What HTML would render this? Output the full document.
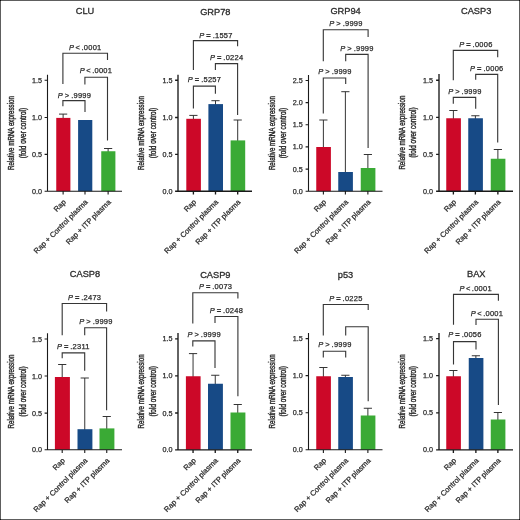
<!DOCTYPE html>
<html><head><meta charset="utf-8"><title>chart</title>
<style>
html,body{margin:0;padding:0;background:#fff;}
body{width:520px;height:520px;overflow:hidden;}
svg{display:block;font-family:"Liberation Sans",sans-serif;will-change:transform;}
text{fill:#2b2b2b;stroke:#2b2b2b;stroke-width:0.25px;}
.pt{letter-spacing:0.25px;word-spacing:-0.6px;}
.lt{word-spacing:-1.1px;}
.yl{stroke-width:0.4px;}
.tt{stroke-width:0.3px;}
</style></head><body>
<svg width="520" height="520" viewBox="0 0 520 520">
<rect x="0" y="0" width="520" height="520" fill="#fff"/>
<rect x="0.5" y="0.5" width="519" height="519" fill="none" stroke="#5e5e5e" stroke-width="1"/>
<path d="M0 0h1v1h-1zM519 0h1v1h-1zM0 519h1v1h-1zM519 519h1v1h-1z" fill="#111"/>
<g>
<text x="85" y="14.4" font-size="9.25" text-anchor="middle" class="tt">CLU</text>
<path d="M63.12 118.9V114.1M59.02 114.1H67.22" stroke="#2a2a2a" stroke-width="0.95" fill="none"/>
<rect x="56.25" y="117.9" width="14.15" height="73.35" fill="#cc0828"/>
<rect x="78.1" y="120" width="14.2" height="71.25" fill="#174a86"/>
<path d="M108.12 152.25V148.5M104.03 148.5H112.22" stroke="#2a2a2a" stroke-width="0.95" fill="none"/>
<rect x="101.25" y="151.25" width="14.15" height="40" fill="#3aaa35"/>
<path d="M47.5 74.75V191.25M47 191.25H122M44.6 80.25H47.5M44.6 117.5H47.5M44.6 154.4H47.5M44.6 191.25H47.5M63.12 191.25V194.45M85 191.25V194.45M108.12 191.25V194.45" stroke="#1a1a1a" stroke-width="1.1" fill="none"/>
<text x="42.1" y="82.75" font-size="7.2" text-anchor="end" fill="#2b2b2b">1.5</text>
<text x="42.1" y="120" font-size="7.2" text-anchor="end" fill="#2b2b2b">1.0</text>
<text x="42.1" y="156.9" font-size="7.2" text-anchor="end" fill="#2b2b2b">0.5</text>
<text x="42.1" y="193.75" font-size="7.2" text-anchor="end" fill="#2b2b2b">0.0</text>
<text transform="translate(66.42 202.55) rotate(-45)" font-size="7.5" text-anchor="end" fill="#2b2b2b">Rap</text>
<text transform="translate(88.3 202.55) rotate(-45)" font-size="7.5" text-anchor="end" fill="#2b2b2b">Rap + Control plasma</text>
<text transform="translate(111.42 202.55) rotate(-45)" font-size="7.5" text-anchor="end" fill="#2b2b2b">Rap + ITP plasma</text>
<text transform="translate(14.2 133) rotate(-90)" font-size="8.2" text-anchor="middle" textLength="74" lengthAdjust="spacingAndGlyphs" class="yl">Relative mRNA expression</text>
<text transform="translate(25.7 133) rotate(-90)" font-size="8.2" text-anchor="middle" textLength="50.4" lengthAdjust="spacingAndGlyphs" class="yl">(fold over control)</text>
<path d="M62.9 83.9V53.2H107.5V60" stroke="#363636" stroke-width="1.12" fill="none"/>
<text x="85.3" y="50" font-size="7.5" text-anchor="middle" class="pt lt"><tspan font-style="italic">P</tspan> &lt; .0001</text>
<path d="M84.9 84.4V77.2H107.5V140.6" stroke="#363636" stroke-width="1.12" fill="none"/>
<text x="96" y="73.35" font-size="7.5" text-anchor="middle" class="pt lt"><tspan font-style="italic">P</tspan> &lt; .0001</text>
<path d="M62.9 106.25V100.6H85V112" stroke="#363636" stroke-width="1.12" fill="none"/>
<text x="74.5" y="97.5" font-size="7.5" text-anchor="middle" class="pt"><tspan font-style="italic">P</tspan> &gt; .9999</text>
</g>
<g>
<text x="215.3" y="14.5" font-size="9.25" text-anchor="middle" class="tt">GRP78</text>
<path d="M193.4 119.8V115.4M189.3 115.4H197.5" stroke="#2a2a2a" stroke-width="0.95" fill="none"/>
<rect x="186.3" y="118.8" width="14.6" height="72.45" fill="#cc0828"/>
<path d="M215.5 105.1V100.7M211.4 100.7H219.6" stroke="#2a2a2a" stroke-width="0.95" fill="none"/>
<rect x="208.4" y="104.1" width="14.6" height="87.15" fill="#174a86"/>
<path d="M237.7 141.4V120M233.6 120H241.8" stroke="#2a2a2a" stroke-width="0.95" fill="none"/>
<rect x="230.6" y="140.4" width="14.6" height="50.85" fill="#3aaa35"/>
<path d="M178 74.7V191.25M177.5 191.25H252M175.1 80.25H178M175.1 117.5H178M175.1 154.4H178M175.1 191.25H178M193.4 191.25V194.45M215.5 191.25V194.45M237.7 191.25V194.45" stroke="#1a1a1a" stroke-width="1.35" fill="none"/>
<text x="172.4" y="82.75" font-size="7.2" text-anchor="end" fill="#2b2b2b">1.5</text>
<text x="172.4" y="120" font-size="7.2" text-anchor="end" fill="#2b2b2b">1.0</text>
<text x="172.4" y="156.9" font-size="7.2" text-anchor="end" fill="#2b2b2b">0.5</text>
<text x="172.4" y="193.75" font-size="7.2" text-anchor="end" fill="#2b2b2b">0.0</text>
<text transform="translate(196.7 202.55) rotate(-45)" font-size="7.5" text-anchor="end" fill="#2b2b2b">Rap</text>
<text transform="translate(218.8 202.55) rotate(-45)" font-size="7.5" text-anchor="end" fill="#2b2b2b">Rap + Control plasma</text>
<text transform="translate(241 202.55) rotate(-45)" font-size="7.5" text-anchor="end" fill="#2b2b2b">Rap + ITP plasma</text>
<text transform="translate(144.45 132.97) rotate(-90)" font-size="8.2" text-anchor="middle" textLength="74" lengthAdjust="spacingAndGlyphs" class="yl">Relative mRNA expression</text>
<text transform="translate(155.95 132.97) rotate(-90)" font-size="8.2" text-anchor="middle" textLength="50.4" lengthAdjust="spacingAndGlyphs" class="yl">(fold over control)</text>
<path d="M193.4 70V40.6H237.6V46.2" stroke="#363636" stroke-width="1.12" fill="none"/>
<text x="216" y="37.6" font-size="7.5" text-anchor="middle" class="pt"><tspan font-style="italic">P</tspan> <tspan font-weight="bold">=</tspan> .1557</text>
<path d="M215.4 70V63.6H237.6V115" stroke="#363636" stroke-width="1.12" fill="none"/>
<text x="226.7" y="59.95" font-size="7.5" text-anchor="middle" class="pt"><tspan font-style="italic">P</tspan> <tspan font-weight="bold">=</tspan> .0224</text>
<path d="M193.4 108.5V86.1H215.4V93.7" stroke="#363636" stroke-width="1.12" fill="none"/>
<text x="204.5" y="82.4" font-size="7.5" text-anchor="middle" class="pt"><tspan font-style="italic">P</tspan> <tspan font-weight="bold">=</tspan> .5257</text>
</g>
<g>
<text x="345.6" y="14.4" font-size="9.25" text-anchor="middle" class="tt">GRP94</text>
<path d="M323.38 148V120M319.27 120H327.48" stroke="#2a2a2a" stroke-width="0.95" fill="none"/>
<rect x="316.25" y="147" width="14.65" height="44.25" fill="#cc0828"/>
<path d="M345.38 173V91.7M341.27 91.7H349.48" stroke="#2a2a2a" stroke-width="0.95" fill="none"/>
<rect x="338.25" y="172" width="14.65" height="19.25" fill="#174a86"/>
<path d="M367.88 169V154.5M363.77 154.5H371.98" stroke="#2a2a2a" stroke-width="0.95" fill="none"/>
<rect x="360.75" y="168" width="14.65" height="23.25" fill="#3aaa35"/>
<path d="M308.5 75V191.25M308 191.25H382.5M305.6 80.5H308.5M305.6 102.6H308.5M305.6 124.8H308.5M305.6 146.9H308.5M305.6 169.1H308.5M305.6 191.25H308.5M323.38 191.25V194.45M345.38 191.25V194.45M367.88 191.25V194.45" stroke="#1a1a1a" stroke-width="1.1" fill="none"/>
<text x="302.7" y="83" font-size="7.2" text-anchor="end" fill="#2b2b2b">2.5</text>
<text x="302.7" y="105.1" font-size="7.2" text-anchor="end" fill="#2b2b2b">2.0</text>
<text x="302.7" y="127.3" font-size="7.2" text-anchor="end" fill="#2b2b2b">1.5</text>
<text x="302.7" y="149.4" font-size="7.2" text-anchor="end" fill="#2b2b2b">1.0</text>
<text x="302.7" y="171.6" font-size="7.2" text-anchor="end" fill="#2b2b2b">0.5</text>
<text x="302.7" y="193.75" font-size="7.2" text-anchor="end" fill="#2b2b2b">0.0</text>
<text transform="translate(326.68 202.55) rotate(-45)" font-size="7.5" text-anchor="end" fill="#2b2b2b">Rap</text>
<text transform="translate(348.68 202.55) rotate(-45)" font-size="7.5" text-anchor="end" fill="#2b2b2b">Rap + Control plasma</text>
<text transform="translate(371.18 202.55) rotate(-45)" font-size="7.5" text-anchor="end" fill="#2b2b2b">Rap + ITP plasma</text>
<text transform="translate(274.7 133.12) rotate(-90)" font-size="8.2" text-anchor="middle" textLength="74" lengthAdjust="spacingAndGlyphs" class="yl">Relative mRNA expression</text>
<text transform="translate(286.2 133.12) rotate(-90)" font-size="8.2" text-anchor="middle" textLength="50.4" lengthAdjust="spacingAndGlyphs" class="yl">(fold over control)</text>
<path d="M323.3 61.2V29.8H368.1V37" stroke="#363636" stroke-width="1.12" fill="none"/>
<text x="346" y="26.1" font-size="7.5" text-anchor="middle" class="pt"><tspan font-style="italic">P</tspan> &gt; .9999</text>
<path d="M345.7 61.2V54.4H368.1V148" stroke="#363636" stroke-width="1.12" fill="none"/>
<text x="357" y="50.8" font-size="7.5" text-anchor="middle" class="pt"><tspan font-style="italic">P</tspan> &gt; .9999</text>
<path d="M323.3 113.6V78H345.7V84" stroke="#363636" stroke-width="1.12" fill="none"/>
<text x="335" y="74.4" font-size="7.5" text-anchor="middle" class="pt"><tspan font-style="italic">P</tspan> &gt; .9999</text>
</g>
<g>
<text x="476.2" y="14.4" font-size="9.25" text-anchor="middle" class="tt">CASP3</text>
<path d="M453.38 119.25V110.5M449.27 110.5H457.48" stroke="#2a2a2a" stroke-width="0.95" fill="none"/>
<rect x="446.25" y="118.25" width="14.65" height="73" fill="#cc0828"/>
<path d="M475.38 119.25V115.75M471.27 115.75H479.48" stroke="#2a2a2a" stroke-width="0.95" fill="none"/>
<rect x="468.25" y="118.25" width="14.65" height="73" fill="#174a86"/>
<path d="M497.88 159.75V149.5M493.77 149.5H501.98" stroke="#2a2a2a" stroke-width="0.95" fill="none"/>
<rect x="490.75" y="158.75" width="14.65" height="32.5" fill="#3aaa35"/>
<path d="M439 74V191.25M438.5 191.25H513M436.1 80.25H439M436.1 117.3H439M436.1 154.3H439M436.1 191.25H439M453.38 191.25V194.45M475.38 191.25V194.45M497.88 191.25V194.45" stroke="#1a1a1a" stroke-width="1.35" fill="none"/>
<text x="433" y="82.75" font-size="7.2" text-anchor="end" fill="#2b2b2b">1.5</text>
<text x="433" y="119.8" font-size="7.2" text-anchor="end" fill="#2b2b2b">1.0</text>
<text x="433" y="156.8" font-size="7.2" text-anchor="end" fill="#2b2b2b">0.5</text>
<text x="433" y="193.75" font-size="7.2" text-anchor="end" fill="#2b2b2b">0.0</text>
<text transform="translate(456.68 202.55) rotate(-45)" font-size="7.5" text-anchor="end" fill="#2b2b2b">Rap</text>
<text transform="translate(478.68 202.55) rotate(-45)" font-size="7.5" text-anchor="end" fill="#2b2b2b">Rap + Control plasma</text>
<text transform="translate(501.18 202.55) rotate(-45)" font-size="7.5" text-anchor="end" fill="#2b2b2b">Rap + ITP plasma</text>
<text transform="translate(404.95 132.62) rotate(-90)" font-size="8.2" text-anchor="middle" textLength="74" lengthAdjust="spacingAndGlyphs" class="yl">Relative mRNA expression</text>
<text transform="translate(416.45 132.62) rotate(-90)" font-size="8.2" text-anchor="middle" textLength="50.4" lengthAdjust="spacingAndGlyphs" class="yl">(fold over control)</text>
<path d="M453.3 80.3V50.4H497.7V57.3" stroke="#363636" stroke-width="1.12" fill="none"/>
<text x="475.9" y="46.7" font-size="7.5" text-anchor="middle" class="pt"><tspan font-style="italic">P</tspan> <tspan font-weight="bold">=</tspan> .0006</text>
<path d="M475.7 79.8V74.4H497.7V142.5" stroke="#363636" stroke-width="1.12" fill="none"/>
<text x="486.8" y="70.6" font-size="7.5" text-anchor="middle" class="pt"><tspan font-style="italic">P</tspan> <tspan font-weight="bold">=</tspan> .0006</text>
<path d="M453.3 103.75V97.4H475.7V108.75" stroke="#363636" stroke-width="1.12" fill="none"/>
<text x="464.9" y="93.5" font-size="7.5" text-anchor="middle" class="pt"><tspan font-style="italic">P</tspan> &gt; .9999</text>
</g>
<g>
<text x="85" y="277.3" font-size="9.25" text-anchor="middle" class="tt">CASP8</text>
<path d="M62.2 378V364.5M58.1 364.5H66.3" stroke="#2a2a2a" stroke-width="0.95" fill="none"/>
<rect x="54.9" y="377" width="15" height="72.8" fill="#cc0828"/>
<path d="M84.75 430.2V378M80.65 378H88.85" stroke="#2a2a2a" stroke-width="0.95" fill="none"/>
<rect x="77.5" y="429.2" width="14.9" height="20.6" fill="#174a86"/>
<path d="M106.75 429.4V416.5M102.65 416.5H110.85" stroke="#2a2a2a" stroke-width="0.95" fill="none"/>
<rect x="99.5" y="428.4" width="14.9" height="21.4" fill="#3aaa35"/>
<path d="M47.5 333.2V449.8M47 449.8H122M44.6 339H47.5M44.6 376H47.5M44.6 413.1H47.5M44.6 449.8H47.5M62.2 449.8V453M84.75 449.8V453M106.75 449.8V453" stroke="#1a1a1a" stroke-width="1.1" fill="none"/>
<text x="42.1" y="341.5" font-size="7.2" text-anchor="end" fill="#2b2b2b">1.5</text>
<text x="42.1" y="378.5" font-size="7.2" text-anchor="end" fill="#2b2b2b">1.0</text>
<text x="42.1" y="415.6" font-size="7.2" text-anchor="end" fill="#2b2b2b">0.5</text>
<text x="42.1" y="452.3" font-size="7.2" text-anchor="end" fill="#2b2b2b">0.0</text>
<text transform="translate(65.5 461.1) rotate(-45)" font-size="7.5" text-anchor="end" fill="#2b2b2b">Rap</text>
<text transform="translate(88.05 461.1) rotate(-45)" font-size="7.5" text-anchor="end" fill="#2b2b2b">Rap + Control plasma</text>
<text transform="translate(110.05 461.1) rotate(-45)" font-size="7.5" text-anchor="end" fill="#2b2b2b">Rap + ITP plasma</text>
<text transform="translate(14.2 391.5) rotate(-90)" font-size="8.2" text-anchor="middle" textLength="74" lengthAdjust="spacingAndGlyphs" class="yl">Relative mRNA expression</text>
<text transform="translate(25.7 391.5) rotate(-90)" font-size="8.2" text-anchor="middle" textLength="50.4" lengthAdjust="spacingAndGlyphs" class="yl">(fold over control)</text>
<path d="M62.2 335.3V303.5H106.6V311.4" stroke="#363636" stroke-width="1.12" fill="none"/>
<text x="84.6" y="300.4" font-size="7.5" text-anchor="middle" class="pt"><tspan font-style="italic">P</tspan> <tspan font-weight="bold">=</tspan> .2473</text>
<path d="M84.7 335.3V327.8H106.6V410.3" stroke="#363636" stroke-width="1.12" fill="none"/>
<text x="96" y="324.3" font-size="7.5" text-anchor="middle" class="pt"><tspan font-style="italic">P</tspan> &gt; .9999</text>
<path d="M62.2 358.3V352.9H84.7V370.8" stroke="#363636" stroke-width="1.12" fill="none"/>
<text x="73.3" y="348.7" font-size="7.5" text-anchor="middle" class="pt"><tspan font-style="italic">P</tspan> <tspan font-weight="bold">=</tspan> .2311</text>
</g>
<g>
<text x="215.3" y="277.6" font-size="9.25" text-anchor="middle" class="tt">CASP9</text>
<path d="M193.05 377.25V353.6M188.95 353.6H197.15" stroke="#2a2a2a" stroke-width="0.95" fill="none"/>
<rect x="185.9" y="376.25" width="14.7" height="73.55" fill="#cc0828"/>
<path d="M215.25 384.75V375.25M211.15 375.25H219.35" stroke="#2a2a2a" stroke-width="0.95" fill="none"/>
<rect x="208" y="383.75" width="14.9" height="66.05" fill="#174a86"/>
<path d="M237.75 413.5V404.5M233.65 404.5H241.85" stroke="#2a2a2a" stroke-width="0.95" fill="none"/>
<rect x="230.5" y="412.5" width="14.9" height="37.3" fill="#3aaa35"/>
<path d="M178 333V449.8M177.5 449.8H252M175.1 338.8H178M175.1 375.8H178M175.1 413H178M175.1 449.8H178M193.05 449.8V453M215.25 449.8V453M237.75 449.8V453" stroke="#1a1a1a" stroke-width="1.35" fill="none"/>
<text x="172.4" y="341.3" font-size="7.2" text-anchor="end" fill="#2b2b2b">1.5</text>
<text x="172.4" y="378.3" font-size="7.2" text-anchor="end" fill="#2b2b2b">1.0</text>
<text x="172.4" y="415.5" font-size="7.2" text-anchor="end" fill="#2b2b2b">0.5</text>
<text x="172.4" y="452.3" font-size="7.2" text-anchor="end" fill="#2b2b2b">0.0</text>
<text transform="translate(196.35 461.1) rotate(-45)" font-size="7.5" text-anchor="end" fill="#2b2b2b">Rap</text>
<text transform="translate(218.55 461.1) rotate(-45)" font-size="7.5" text-anchor="end" fill="#2b2b2b">Rap + Control plasma</text>
<text transform="translate(241.05 461.1) rotate(-45)" font-size="7.5" text-anchor="end" fill="#2b2b2b">Rap + ITP plasma</text>
<text transform="translate(144.45 391.4) rotate(-90)" font-size="8.2" text-anchor="middle" textLength="74" lengthAdjust="spacingAndGlyphs" class="yl">Relative mRNA expression</text>
<text transform="translate(155.95 391.4) rotate(-90)" font-size="8.2" text-anchor="middle" textLength="50.4" lengthAdjust="spacingAndGlyphs" class="yl">(fold over control)</text>
<path d="M192.8 323.6V292.7H237.9V298.5" stroke="#363636" stroke-width="1.12" fill="none"/>
<text x="215.6" y="289" font-size="7.5" text-anchor="middle" class="pt"><tspan font-style="italic">P</tspan> <tspan font-weight="bold">=</tspan> .0073</text>
<path d="M215 322.9V316.5H237.9V396.25" stroke="#363636" stroke-width="1.12" fill="none"/>
<text x="226.4" y="312.7" font-size="7.5" text-anchor="middle" class="pt"><tspan font-style="italic">P</tspan> <tspan font-weight="bold">=</tspan> .0248</text>
<path d="M192.8 346.6V340.9H215V368" stroke="#363636" stroke-width="1.12" fill="none"/>
<text x="204.2" y="337.3" font-size="7.5" text-anchor="middle" class="pt"><tspan font-style="italic">P</tspan> &gt; .9999</text>
</g>
<g>
<text x="345.5" y="277.6" font-size="9.25" text-anchor="middle" class="tt">p53</text>
<path d="M323.38 377.25V367.5M319.27 367.5H327.48" stroke="#2a2a2a" stroke-width="0.95" fill="none"/>
<rect x="316.25" y="376.25" width="14.65" height="73.55" fill="#cc0828"/>
<path d="M345.38 378V375.25M341.27 375.25H349.48" stroke="#2a2a2a" stroke-width="0.95" fill="none"/>
<rect x="338.25" y="377" width="14.65" height="72.8" fill="#174a86"/>
<path d="M367.88 416.5V408.25M363.77 408.25H371.98" stroke="#2a2a2a" stroke-width="0.95" fill="none"/>
<rect x="360.75" y="415.5" width="14.65" height="34.3" fill="#3aaa35"/>
<path d="M308.5 333V449.8M308 449.8H382.5M305.6 338.6H308.5M305.6 375.6H308.5M305.6 412.8H308.5M305.6 449.8H308.5M323.38 449.8V453M345.38 449.8V453M367.88 449.8V453" stroke="#1a1a1a" stroke-width="1.1" fill="none"/>
<text x="302.7" y="341.1" font-size="7.2" text-anchor="end" fill="#2b2b2b">1.5</text>
<text x="302.7" y="378.1" font-size="7.2" text-anchor="end" fill="#2b2b2b">1.0</text>
<text x="302.7" y="415.3" font-size="7.2" text-anchor="end" fill="#2b2b2b">0.5</text>
<text x="302.7" y="452.3" font-size="7.2" text-anchor="end" fill="#2b2b2b">0.0</text>
<text transform="translate(326.68 461.1) rotate(-45)" font-size="7.5" text-anchor="end" fill="#2b2b2b">Rap</text>
<text transform="translate(348.68 461.1) rotate(-45)" font-size="7.5" text-anchor="end" fill="#2b2b2b">Rap + Control plasma</text>
<text transform="translate(371.18 461.1) rotate(-45)" font-size="7.5" text-anchor="end" fill="#2b2b2b">Rap + ITP plasma</text>
<text transform="translate(274.7 391.4) rotate(-90)" font-size="8.2" text-anchor="middle" textLength="74" lengthAdjust="spacingAndGlyphs" class="yl">Relative mRNA expression</text>
<text transform="translate(286.2 391.4) rotate(-90)" font-size="8.2" text-anchor="middle" textLength="50.4" lengthAdjust="spacingAndGlyphs" class="yl">(fold over control)</text>
<path d="M323.3 335.6V304.5H368.2V310" stroke="#363636" stroke-width="1.12" fill="none"/>
<text x="345.9" y="300.8" font-size="7.5" text-anchor="middle" class="pt"><tspan font-style="italic">P</tspan> <tspan font-weight="bold">=</tspan> .0225</text>
<path d="M345.7 335.4V326.7H368.2V401.25" stroke="#363636" stroke-width="1.12" fill="none"/>
<path d="M323.3 357.5V351.2H345.7V357.5" stroke="#363636" stroke-width="1.12" fill="none"/>
<text x="334.9" y="347.3" font-size="7.5" text-anchor="middle" class="pt"><tspan font-style="italic">P</tspan> &gt; .9999</text>
</g>
<g>
<text x="476.3" y="277.4" font-size="9.25" text-anchor="middle" class="tt">BAX</text>
<path d="M453.38 377.25V370.5M449.27 370.5H457.48" stroke="#2a2a2a" stroke-width="0.95" fill="none"/>
<rect x="446.25" y="376.25" width="14.65" height="73.55" fill="#cc0828"/>
<path d="M475.88 359V355.75M471.77 355.75H479.98" stroke="#2a2a2a" stroke-width="0.95" fill="none"/>
<rect x="468.75" y="358" width="14.65" height="91.8" fill="#174a86"/>
<path d="M497.88 420.5V412.5M493.77 412.5H501.98" stroke="#2a2a2a" stroke-width="0.95" fill="none"/>
<rect x="490.75" y="419.5" width="14.65" height="30.3" fill="#3aaa35"/>
<path d="M439 333V449.8M438.5 449.8H513M436.1 338.6H439M436.1 375.6H439M436.1 412.8H439M436.1 449.8H439M453.38 449.8V453M475.88 449.8V453M497.88 449.8V453" stroke="#1a1a1a" stroke-width="1.35" fill="none"/>
<text x="433" y="341.1" font-size="7.2" text-anchor="end" fill="#2b2b2b">1.5</text>
<text x="433" y="378.1" font-size="7.2" text-anchor="end" fill="#2b2b2b">1.0</text>
<text x="433" y="415.3" font-size="7.2" text-anchor="end" fill="#2b2b2b">0.5</text>
<text x="433" y="452.3" font-size="7.2" text-anchor="end" fill="#2b2b2b">0.0</text>
<text transform="translate(456.68 461.1) rotate(-45)" font-size="7.5" text-anchor="end" fill="#2b2b2b">Rap</text>
<text transform="translate(479.18 461.1) rotate(-45)" font-size="7.5" text-anchor="end" fill="#2b2b2b">Rap + Control plasma</text>
<text transform="translate(501.18 461.1) rotate(-45)" font-size="7.5" text-anchor="end" fill="#2b2b2b">Rap + ITP plasma</text>
<text transform="translate(404.95 391.4) rotate(-90)" font-size="8.2" text-anchor="middle" textLength="74" lengthAdjust="spacingAndGlyphs" class="yl">Relative mRNA expression</text>
<text transform="translate(416.45 391.4) rotate(-90)" font-size="8.2" text-anchor="middle" textLength="50.4" lengthAdjust="spacingAndGlyphs" class="yl">(fold over control)</text>
<path d="M453.5 324.8V294.4H498.4V300.8" stroke="#363636" stroke-width="1.12" fill="none"/>
<text x="475.7" y="291" font-size="7.5" text-anchor="middle" class="pt lt"><tspan font-style="italic">P</tspan> &lt; .0001</text>
<path d="M476 324.9V319.3H498.4V405" stroke="#363636" stroke-width="1.12" fill="none"/>
<text x="487" y="316" font-size="7.5" text-anchor="middle" class="pt lt"><tspan font-style="italic">P</tspan> &lt; .0001</text>
<path d="M453.5 364.5V341.6H476V349.4" stroke="#363636" stroke-width="1.12" fill="none"/>
<text x="465" y="337.3" font-size="7.5" text-anchor="middle" class="pt"><tspan font-style="italic">P</tspan> <tspan font-weight="bold">=</tspan> .0056</text>
</g>
</svg>
</body></html>
